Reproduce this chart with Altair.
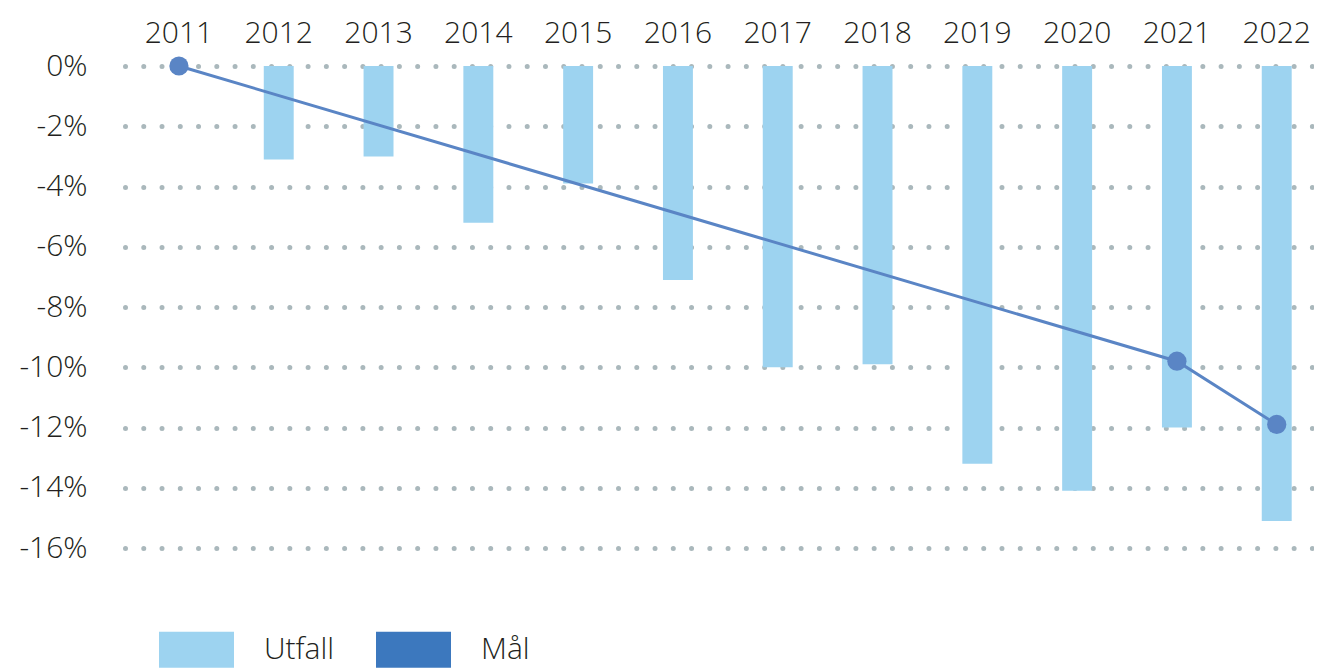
import altair as alt
import pandas as pd

# ---- data ----
years = ["2011", "2012", "2013", "2014", "2015", "2016",
         "2017", "2018", "2019", "2020", "2021", "2022"]
utfall = [0.0, -3.1, -3.0, -5.2, -3.9, -7.1, -10.0, -9.9, -13.2, -14.1, -12.0, -15.1]
mal_years = ["2011", "2021", "2022"]
mal_values = [0.0, -9.8, -11.9]
y_ticks = [0, -2, -4, -6, -8, -10, -12, -14, -16]
series = ["Utfall", "Mål"]
series_colors = ["#9dd3f0", "#3c78be"]
line_color = "#5a85c5"

FONT = "Open Sans"
TEXT = "#231f20"
WEIGHT = 300
FS = 30

bars_df = pd.DataFrame({"year": years, "value": utfall, "serie": ["Utfall"] * len(years)})
line_df = pd.DataFrame({"year": mal_years, "value": mal_values})

xscale = alt.Scale(domain=years, paddingInner=0.7, paddingOuter=0.307, align=0.636)
x_enc = alt.X(
    "year:O",
    scale=xscale,
    axis=alt.Axis(
        orient="top", title=None, domain=False, ticks=False, labelAngle=0,
        labelFont=FONT, labelFontSize=FS, labelFontWeight=WEIGHT,
        labelColor=TEXT, labelPadding=18, grid=False,
    ),
)
y_enc = alt.Y(
    "value:Q",
    scale=alt.Scale(domain=[-16, 0], nice=False, zero=False),
    axis=alt.Axis(
        values=y_ticks, labelExpr="datum.value + '%'", title=None,
        domain=False, ticks=False, labelPadding=38,
        labelFont=FONT, labelFontSize=FS, labelFontWeight=WEIGHT, labelColor=TEXT,
        grid=True, gridDash=[0, 18.26], gridCap="round", gridWidth=5,
        gridColor="#aab8bc",
    ),
)

bars = alt.Chart(bars_df).mark_bar(opacity=1).encode(
    x=x_enc,
    y=y_enc,
    color=alt.Color(
        "serie:N",
        scale=alt.Scale(domain=series, range=series_colors),
        legend=alt.Legend(
            orient="none", legendX=34, legendY=546, direction="horizontal",
            title=None, symbolType="M-1,-0.48H1V0.48H-1Z", symbolSize=5625,
            symbolStrokeWidth=0, symbolOpacity=1,
            labelFont=FONT, labelFontSize=FS, labelFontWeight=WEIGHT, labelColor=TEXT,
            labelOffset=30, columnPadding=41, padding=0,
        ),
    ),
)

line = alt.Chart(line_df).mark_line(color=line_color, strokeWidth=3).encode(
    x=x_enc, y=y_enc
)
points = alt.Chart(line_df).mark_circle(color=line_color, size=370, opacity=1).encode(
    x=x_enc, y=y_enc
)

chart = (
    alt.layer(bars, line, points)
    .properties(
        width=1189, height=482,
        autosize=alt.AutoSizeParams(type="none"),
        padding={"left": 117, "top": 58, "right": 0, "bottom": 120},
    )
    .configure(font=FONT)
    .configure_view(strokeWidth=0, stroke="transparent")
    .configure_axis(domain=False, ticks=False)
    .configure_axisX(grid=False)
)

chart.save("out.html", embed_options={"renderer": "svg", "actions": False})
